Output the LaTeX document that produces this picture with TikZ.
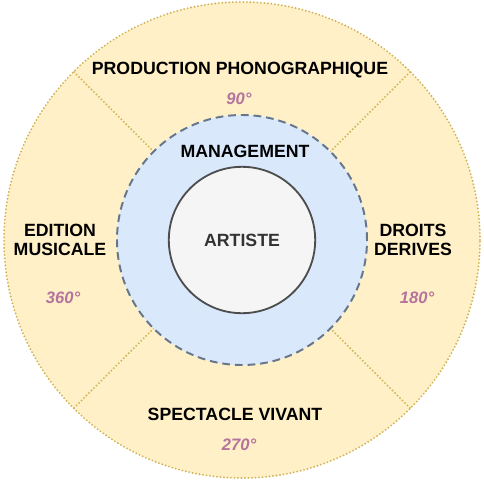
\documentclass[tikz,border=0pt]{standalone}
\usepackage{fontspec}
\setmainfont{Liberation Sans}
\usetikzlibrary{positioning}
\definecolor{paleyellow}{HTML}{FFF0C8}
\definecolor{goldline}{HTML}{D2B458}
\definecolor{paleblue}{HTML}{DAE8FC}
\definecolor{slategrey}{HTML}{66778C}
\definecolor{offwhite}{HTML}{F5F5F5}
\definecolor{darkring}{HTML}{4D4D4D}
\definecolor{mauve}{HTML}{B5739D}
\tikzset{
  sector/.style={font=\fontsize{12.6}{14}\selectfont\bfseries, align=center, text=black},
  degree/.style={font=\fontsize{11.8}{13}\selectfont\bfseries\itshape, text=mauve},
  goldrim/.style={goldline, line width=1.5pt, line cap=round, dash pattern=on 0pt off 2.5pt},
}

\begin{document}
\begin{tikzpicture}
  \coordinate (O) at (0,0);
  \useasboundingbox (-6.05,-6) rectangle (6.05,6);

  % outer ring
  \fill[paleyellow] (O) circle (5.95cm);
  \draw[goldrim] (O) circle (5.95cm);
  \foreach \angle in {45,135,225,315}
  {
    \draw[goldrim] (\angle:3.125cm) -- (\angle:5.95cm);
  }

  % management ring
  \draw[slategrey, line width=1.4pt, dash pattern=on 5.5pt off 3.5pt, fill=paleblue] (O) circle (3.125cm);
  \draw[darkring, line width=1.3pt, fill=offwhite] (O) circle (1.83cm);

  \node[sector, text=black!80] (artiste) at (O) {ARTISTE};
  \node[sector] (management) at (0.075,2.225) {MANAGEMENT};

  \node[sector] (production) at (-0.05,4.25) {PRODUCTION PHONOGRAPHIQUE};
  \node[sector] (edition) at (-4.55,0) {EDITION\\MUSICALE};
  \node[sector] (droits) at (4.275,0) {DROITS\\DERIVES};
  \node[sector] (spectacle) at (-0.175,-4.35) {SPECTACLE VIVANT};

  \node[degree] (deg90) at (-0.075,3.525) {90°};
  \node[degree] (deg360) at (-4.475,-1.45) {360°};
  \node[degree] (deg180) at (4.375,-1.45) {180°};
  \node[degree] (deg270) at (-0.075,-5.125) {270°};
\end{tikzpicture}
\end{document}
